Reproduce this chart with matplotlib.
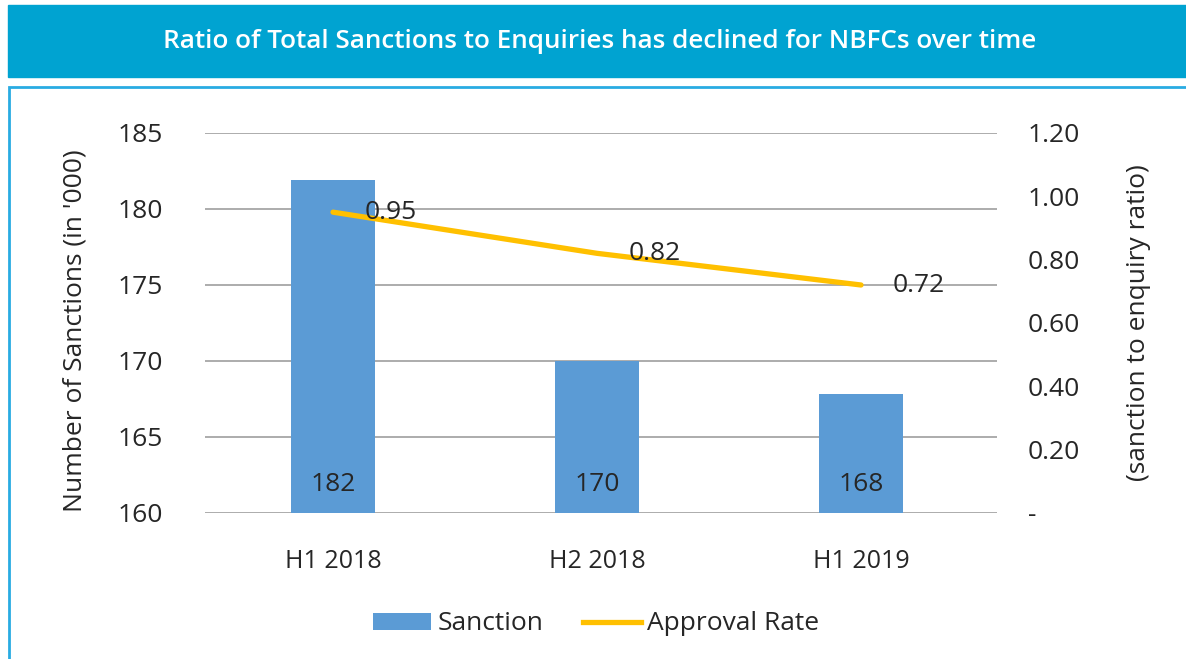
import matplotlib
matplotlib.use('Agg')
import matplotlib.pyplot as plt
from matplotlib.patches import Rectangle, Patch
from matplotlib.lines import Line2D
from matplotlib.ticker import FuncFormatter

# ---------------- dati ----------------
periods = ['H1 2018', 'H2 2018', 'H1 2019']
sanctions = [181.9, 170.0, 167.8]       # '000
approval_rate = [0.95, 0.82, 0.72]      # sanction / enquiry

TITLE = 'Ratio of Total Sanctions to Enquiries has declined for NBFCs over time'
BAR_COL = '#5B9BD5'
LINE_COL = '#FFC000'
TXT_COL = '#262626'
BANNER_COL = '#00A3D1'
FS = 19

plt.rcParams['font.family'] = ['Open Sans', 'DejaVu Sans']

fig = plt.figure(figsize=(11.86, 6.59), dpi=100)
W, H = 1186, 659

# banner titolo
fig.patches.append(Rectangle((8 / W, 1 - 77 / H), 1 - 8 / W, 72 / H,
                             transform=fig.transFigure, color=BANNER_COL, zorder=0))
fig.text(600 / W, 1 - 41 / H, TITLE, color='white', fontsize=18.8, fontweight='semibold',
         ha='center', va='center')
# cornice
fig.patches.append(Rectangle((9 / W, -0.05), 1.1, 1 - 87 / H + 0.05,
                             transform=fig.transFigure, fill=False,
                             edgecolor='#29ABE2', linewidth=2, zorder=0))

ax = fig.add_axes([205 / W, 146 / H, 792 / W, 380 / H])
ax2 = ax.twinx()

x = list(range(len(periods)))
ax.bar(x, sanctions, width=0.315, color=BAR_COL, zorder=2)
for xi, v in zip(x, sanctions):
    ax.annotate(f'{v:.0f}', xy=(xi, 160), xytext=(0, 20.5), textcoords='offset points',
                ha='center', va='center', fontsize=FS, color=TXT_COL)

ax.set_ylim(160, 185)
ax.set_yticks(range(160, 186, 5))
ax.set_xlim(-0.485, 2.515)
ax.set_xticks(x)
ax.set_xticklabels(periods, fontsize=18)
ax.set_axisbelow(True)
ax.yaxis.grid(True, color='#A6A6A6', linewidth=1.3)
ax.set_ylabel("Number of Sanctions (in '000)", fontsize=FS, color=TXT_COL, labelpad=22)
ax.yaxis.label.set_y(0.48)

ax2.plot(x, approval_rate, color=LINE_COL, linewidth=3.8, solid_capstyle='round', zorder=3)
for xi, r in zip(x, approval_rate):
    ax2.annotate(f'{r:.2f}', xy=(xi, r), xytext=(23, 0), textcoords='offset points',
                 ha='left', va='center', fontsize=FS, color=TXT_COL)
ax2.set_ylim(0, 1.2)
ax2.set_yticks([0, 0.2, 0.4, 0.6, 0.8, 1.0, 1.2])
ax2.yaxis.set_major_formatter(FuncFormatter(lambda v, p: '-' if abs(v) < 1e-9 else f'{v:.2f}'))
ax2.set_ylabel('(sanction to enquiry ratio)', fontsize=FS, color=TXT_COL, labelpad=33)

for a in (ax, ax2):
    for s in a.spines.values():
        s.set_visible(False)
    a.tick_params(length=0, colors=TXT_COL)
ax.tick_params(axis='y', pad=30, labelsize=FS)
ax.tick_params(axis='x', pad=26)
ax2.tick_params(axis='y', pad=22, labelsize=FS)

handles = [Patch(facecolor=BAR_COL, edgecolor='none'),
           Line2D([0], [0], color=LINE_COL, linewidth=3.8)]
fig.legend(handles, ['Sanction', 'Approval Rate'], loc='center',
           bbox_to_anchor=(596 / W, 35 / H), ncol=2, frameon=False,
           fontsize=FS, handlelength=2.2, handleheight=0.6, handletextpad=0.25,
           columnspacing=1.5, labelcolor=TXT_COL)

fig.savefig('out.png', dpi=100)
